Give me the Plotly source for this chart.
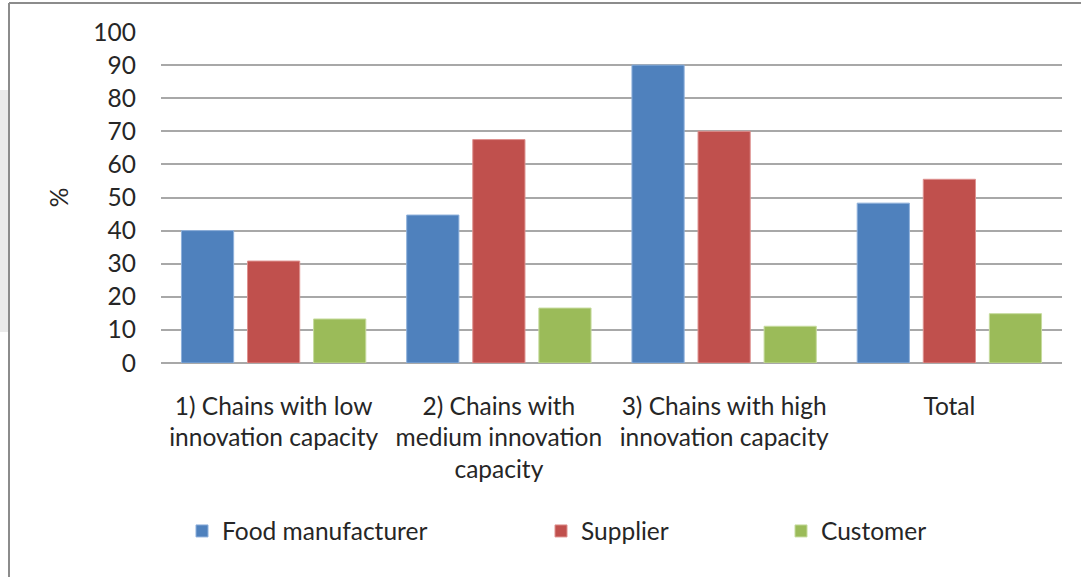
import plotly.graph_objects as go

categories = [
    "1) Chains with low<br>innovation capacity",
    "2) Chains with<br>medium innovation<br>capacity",
    "3) Chains with high<br>innovation capacity",
    "Total",
]
food_manufacturer = [40.0, 44.7, 90.0, 48.3]
supplier = [30.8, 67.5, 70.0, 55.5]
customer = [13.3, 16.6, 11.1, 14.9]
y_ticks = list(range(0, 101, 10))

FONT = "Lato"
FS = 24.5
TXT = "#262626"

# plot area in pixels
W, H = 1081, 577
L, R, T, B = 161, 19, 32, 214
PW, PH = W - L - R, H - T - B


def px_x(px):
    return (px - L) / PW


def px_y(py):
    return (H - B - py) / PH


series = [
    ("Food manufacturer", food_manufacturer, "#4F81BD", "#8EB0DB", "legend"),
    ("Supplier", supplier, "#C0504D", "#DE918F", "legend2"),
    ("Customer", customer, "#9BBB59", "#C6DB9E", "legend3"),
]

fig = go.Figure()
for name, vals, col, edge, lg in series:
    fig.add_trace(go.Bar(
        name=name, x=categories, y=vals,
        marker=dict(color=col, line=dict(color=edge, width=1)),
        legend=lg, showlegend=True,
    ))

legend_common = dict(
    orientation="h", yanchor="middle", xanchor="left",
    font=dict(family=FONT, size=FS, color=TXT),
    bgcolor="rgba(0,0,0,0)", itemwidth=30, borderwidth=0,
)
leg_y = px_y(531)

fig.update_layout(
    width=W, height=H,
    margin=dict(l=L, r=R, t=T, b=B, pad=0),
    paper_bgcolor="white", plot_bgcolor="white",
    barmode="group", bargap=0.12, bargroupgap=0.21,
    font=dict(family=FONT, size=FS, color=TXT),
    showlegend=True,
    legend=dict(x=px_x(182), y=leg_y, **legend_common),
    legend2=dict(x=px_x(541), y=leg_y, **legend_common),
    legend3=dict(x=px_x(781), y=leg_y, **legend_common),
    xaxis=dict(
        showgrid=False, showline=False, zeroline=False,
        tickfont=dict(family=FONT, size=FS, color=TXT),
        ticks="", ticklabelstandoff=26,
    ),
    yaxis=dict(
        range=[0, 100], tickvals=y_ticks,
        showgrid=True, gridcolor="#A8A8A8", gridwidth=1.6,
        zeroline=True, zerolinecolor="#A8A8A8", zerolinewidth=1.6,
        showline=False, ticks="",
        tickfont=dict(family=FONT, size=FS, color=TXT),
        ticklabelstandoff=24,
        title=dict(text="%", font=dict(family=FONT, size=FS, color=TXT), standoff=17),
    ),
    shapes=[
        # grey panel at the far left edge
        dict(type="rect", xref="paper", yref="paper",
             x0=px_x(0), x1=px_x(8), y0=px_y(332), y1=px_y(90),
             fillcolor="#EBEBEB", line=dict(width=0), layer="below"),
        # chart frame (top and left edges)
        dict(type="line", xref="paper", yref="paper",
             x0=px_x(9), x1=px_x(1081), y0=px_y(3), y1=px_y(3),
             line=dict(color="#8C8C8C", width=2)),
        dict(type="line", xref="paper", yref="paper",
             x0=px_x(9), x1=px_x(9), y0=px_y(3), y1=px_y(577),
             line=dict(color="#8C8C8C", width=2)),
    ],
)

fig.write_html("out.html")
